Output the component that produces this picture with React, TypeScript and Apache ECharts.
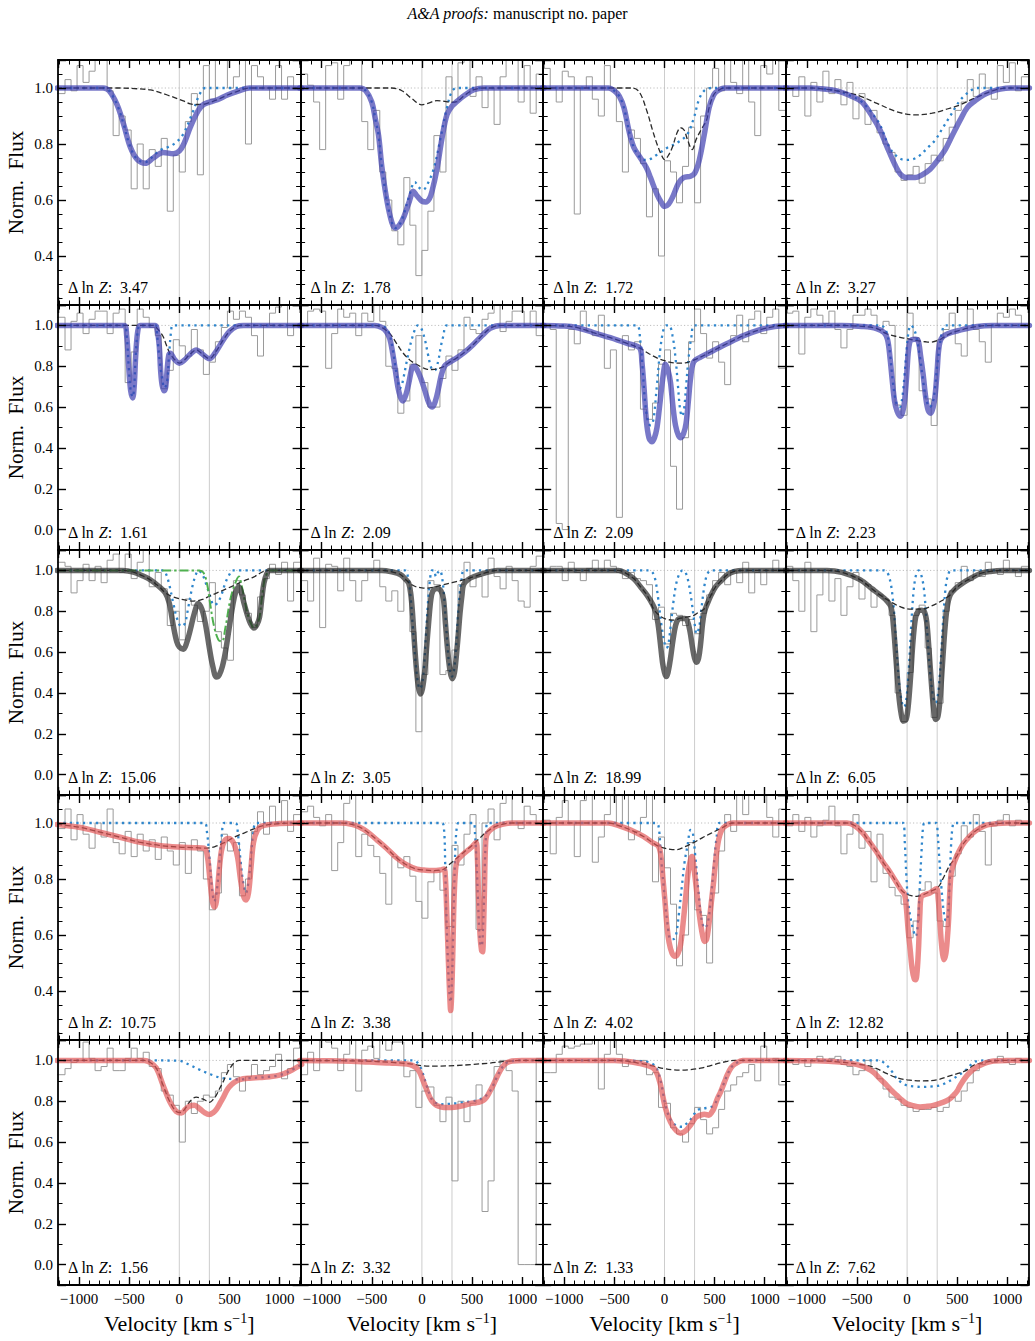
import React, { useEffect, useRef } from "react";
import * as echarts from "echarts";

// ---- velocity grid of the observed spectra (bin edges, km/s) ----
const velocityEdges = [-1220, -1140, -1080, -1020, -960, -900, -840, -780, -720, -660, -600, -540, -480, -420, -360, -300, -240, -180, -120, -60, 0, 60, 120, 180, 240, 300, 360, 420, 480, 540, 600, 660, 720, 780, 840, 900, 960, 1020, 1080, 1140, 1220];

// reference velocities marked in every panel
const refVelocities = [0, 300];

// evidence of each fit, row by row
const deltaLnZ = [
  [3.47, 1.78, 1.72, 3.27],
  [1.61, 2.09, 2.09, 2.23],
  [15.06, 3.05, 18.99, 6.05],
  [10.75, 3.38, 4.02, 12.82],
  [1.56, 3.32, 1.33, 7.62],
];

// ---- row 1 ----
const flux_r1c1 = [0.98, 1.03, 0.99, 1.08, 1.02, 1.06, 1.11, 1.12, 0.99, 0.83, 0.9, 0.85, 0.64, 0.8, 0.64, 0.78, 0.72, 0.82, 0.56, 0.76, 0.7, 0.88, 0.98, 0.69, 1.08, 0.96, 1.12, 1.12, 1.0, 1.04, 1.12, 0.8, 1.08, 1.04, 1.0, 0.96, 1.08, 0.96, 1.04, 1.0];
const fit_r1c1 = [[-1220, 1], [-760, 1], [-700, 0.99], [-620, 0.94], [-555, 0.87], [-490, 0.79], [-420, 0.745], [-340, 0.731], [-260, 0.75], [-160, 0.77], [-60, 0.765], [0, 0.775], [45, 0.8], [110, 0.86], [190, 0.92], [245, 0.942], [380, 0.958], [480, 0.975], [580, 0.988], [700, 1.0], [1220, 1]];
const narrow_r1c1 = [[-1220, 1], [-760, 1], [-700, 0.99], [-620, 0.94], [-555, 0.87], [-490, 0.79], [-420, 0.745], [-340, 0.735], [-280, 0.75], [-190, 0.778], [-70, 0.796], [30, 0.83], [130, 0.91], [200, 0.975], [260, 1.0], [1220, 1]];
const broad_r1c1 = [[-1220, 1], [-600, 1], [-450, 0.998], [-290, 0.993], [-120, 0.975], [40, 0.954], [110, 0.943], [180, 0.941], [245, 0.942], [300, 0.948], [380, 0.958], [480, 0.975], [580, 0.988], [700, 1.0], [1220, 1]];

const flux_r1c2 = [1.05, 1.01, 0.95, 0.78, 1.08, 1.09, 0.96, 1.08, 1.12, 1.11, 0.88, 0.78, 0.92, 0.7, 0.6, 0.49, 0.44, 0.68, 0.51, 0.33, 0.42, 0.56, 0.83, 0.7, 1.04, 0.95, 1.09, 1.12, 0.97, 1.04, 0.93, 1.0, 0.87, 1.04, 1.1, 1.12, 0.95, 1.08, 0.91, 1.05];
const fit_r1c2 = [[-1220, 1], [-620, 1], [-560, 0.99], [-500, 0.95], [-465, 0.89], [-432, 0.83], [-400, 0.72], [-350, 0.6], [-300, 0.52], [-265, 0.5], [-225, 0.51], [-180, 0.54], [-130, 0.59], [-85, 0.631], [-50, 0.615], [0, 0.596], [40, 0.593], [75, 0.605], [100, 0.63], [150, 0.71], [200, 0.82], [250, 0.905], [300, 0.935], [350, 0.952], [430, 0.975], [520, 0.994], [620, 1.0], [1220, 1]];
const narrow_r1c2 = [[-1220, 1], [-620, 1], [-560, 0.99], [-500, 0.95], [-465, 0.89], [-432, 0.83], [-400, 0.72], [-350, 0.6], [-300, 0.52], [-265, 0.5], [-225, 0.51], [-180, 0.55], [-130, 0.61], [-70, 0.664], [-30, 0.645], [10, 0.636], [60, 0.66], [120, 0.714], [185, 0.82], [250, 0.93], [300, 0.988], [350, 1.0], [1220, 1]];
const broad_r1c2 = [[-1220, 1], [-300, 1], [-200, 0.99], [-100, 0.962], [0, 0.94], [60, 0.945], [150, 0.955], [230, 0.952], [300, 0.949], [350, 0.952], [430, 0.975], [520, 0.994], [620, 1.0], [1220, 1]];

const flux_r1c3 = [1.07, 1.0, 0.95, 1.06, 1.04, 0.55, 1.0, 1.04, 0.96, 0.9, 1.08, 1.0, 0.88, 0.7, 0.85, 0.82, 0.73, 0.54, 0.64, 0.4, 0.74, 0.7, 0.59, 0.72, 0.86, 0.59, 0.9, 1.0, 1.07, 0.99, 1.12, 1.02, 0.98, 1.1, 0.95, 0.83, 1.08, 1.05, 1.11, 0.92];
const fit_r1c3 = [[-1220, 1], [-560, 1], [-500, 0.99], [-450, 0.97], [-405, 0.93], [-350, 0.84], [-305, 0.787], [-240, 0.75], [-180, 0.715], [-140, 0.68], [-75, 0.62], [-30, 0.59], [0, 0.577], [40, 0.585], [80, 0.61], [140, 0.66], [190, 0.68], [260, 0.685], [300, 0.695], [345, 0.74], [395, 0.83], [445, 0.93], [490, 0.975], [530, 0.99], [600, 1.0], [1220, 1]];
const narrow_r1c3 = [[-1220, 1], [-560, 1], [-500, 0.99], [-450, 0.97], [-405, 0.93], [-350, 0.84], [-305, 0.787], [-240, 0.75], [-175, 0.743], [-75, 0.762], [25, 0.786], [125, 0.804], [225, 0.833], [290, 0.89], [345, 0.96], [395, 0.99], [470, 1.0], [1220, 1]];
const broad_r1c3 = [[-1220, 1], [-320, 1], [-250, 0.985], [-175, 0.917], [-120, 0.85], [-75, 0.8], [-30, 0.76], [0, 0.744], [40, 0.76], [80, 0.79], [125, 0.84], [160, 0.858], [195, 0.85], [230, 0.815], [275, 0.78], [320, 0.82], [380, 0.86], [420, 0.885], [445, 0.93], [490, 0.975], [530, 0.99], [600, 1.0], [1220, 1]];

const flux_r1c4 = [1.0, 0.97, 1.04, 0.9, 1.02, 0.95, 1.06, 0.98, 1.03, 0.94, 1.02, 0.89, 0.98, 0.87, 0.92, 0.84, 0.8, 0.77, 0.7, 0.67, 0.69, 0.72, 0.66, 0.73, 0.76, 0.74, 0.82, 0.86, 0.92, 0.95, 1.03, 0.97, 1.05, 1.0, 0.96, 1.08, 1.02, 1.09, 0.99, 1.04];
const fit_r1c4 = [[-1220, 1], [-950, 1], [-850, 0.997], [-700, 0.99], [-550, 0.97], [-450, 0.95], [-350, 0.9], [-270, 0.85], [-200, 0.79], [-120, 0.725], [-60, 0.69], [0, 0.68], [80, 0.68], [150, 0.69], [230, 0.71], [300, 0.74], [380, 0.78], [450, 0.83], [530, 0.886], [600, 0.93], [680, 0.955], [760, 0.975], [830, 0.986], [930, 0.996], [1030, 1.0], [1220, 1]];
const narrow_r1c4 = [[-1220, 1], [-950, 1], [-850, 0.997], [-700, 0.99], [-550, 0.97], [-450, 0.95], [-350, 0.91], [-270, 0.868], [-180, 0.79], [-100, 0.755], [-20, 0.743], [50, 0.745], [130, 0.76], [200, 0.785], [280, 0.814], [360, 0.86], [430, 0.9], [480, 0.93], [530, 0.957], [580, 0.975], [630, 0.99], [700, 1.0], [1220, 1]];
const broad_r1c4 = [[-1220, 1], [-950, 1], [-850, 0.997], [-700, 0.99], [-500, 0.975], [-300, 0.945], [-100, 0.915], [80, 0.904], [250, 0.91], [400, 0.925], [530, 0.94], [650, 0.96], [750, 0.975], [850, 0.99], [1000, 1.0], [1220, 1]];

// ---- row 2 ----
const flux_r2c1 = [1.04, 0.88, 1.02, 1.06, 0.96, 1.03, 1.07, 1.07, 0.96, 1.06, 1.08, 0.72, 0.87, 1.08, 1.04, 0.99, 0.95, 0.69, 0.78, 0.93, 0.9, 0.85, 0.98, 0.88, 0.76, 0.82, 0.92, 0.99, 1.07, 1.03, 1.07, 1.04, 0.95, 0.85, 1.0, 1.06, 1.09, 1.1, 0.95, 1.0];
const fit_r2c1 = [[-1220, 1], [-550, 1], [-525, 0.95], [-505, 0.8], [-485, 0.68], [-465, 0.645], [-450, 0.7], [-435, 0.85], [-415, 0.97], [-390, 1.0], [-240, 1.0], [-220, 0.975], [-200, 0.9], [-185, 0.77], [-170, 0.705], [-150, 0.68], [-135, 0.7], [-120, 0.79], [-105, 0.855], [-90, 0.864], [-50, 0.835], [0, 0.815], [50, 0.83], [100, 0.855], [170, 0.88], [230, 0.86], [300, 0.837], [350, 0.86], [440, 0.93], [500, 0.97], [570, 0.995], [640, 1.0], [1220, 1]];
const narrow_r2c1 = [[-1220, 1], [-550, 1], [-525, 0.95], [-505, 0.8], [-485, 0.68], [-465, 0.65], [-450, 0.7], [-435, 0.85], [-415, 0.97], [-390, 1.0], [-235, 1.0], [-220, 0.947], [-197, 0.833], [-170, 0.735], [-147, 0.694], [-123, 0.719], [-103, 0.85], [-80, 0.98], [-65, 1.0], [1220, 1]];
const broad_r2c1 = [[-1220, 1], [-260, 1], [-220, 0.985], [-163, 0.947], [-130, 0.905], [-97, 0.866], [-50, 0.835], [0, 0.815], [50, 0.83], [100, 0.855], [170, 0.88], [230, 0.86], [300, 0.837], [350, 0.86], [440, 0.93], [500, 0.97], [570, 0.995], [640, 1.0], [1220, 1]];

const flux_r2c2 = [1.0, 1.07, 1.08, 1.07, 0.79, 0.96, 1.08, 1.04, 1.06, 0.95, 1.06, 1.02, 1.1, 1.02, 0.8, 0.79, 0.57, 0.63, 0.81, 0.95, 0.72, 0.6, 0.6, 0.74, 0.85, 0.78, 0.88, 1.04, 0.98, 0.96, 1.03, 1.06, 1.1, 0.97, 1.02, 1.07, 1.07, 1.0, 1.07, 0.95];
const fit_r2c2 = [[-1220, 1], [-470, 1], [-400, 0.99], [-355, 0.97], [-320, 0.935], [-290, 0.86], [-265, 0.78], [-240, 0.7], [-215, 0.65], [-190, 0.63], [-160, 0.66], [-130, 0.72], [-100, 0.79], [-80, 0.8], [-50, 0.785], [-10, 0.74], [30, 0.68], [70, 0.62], [105, 0.6], [135, 0.63], [165, 0.69], [195, 0.76], [225, 0.8], [260, 0.815], [345, 0.84], [430, 0.87], [510, 0.905], [600, 0.95], [680, 0.985], [780, 1.0], [1220, 1]];
const narrow_r2c2 = [[-1220, 1], [-420, 1], [-355, 0.985], [-320, 0.95], [-290, 0.88], [-265, 0.8], [-240, 0.73], [-220, 0.69], [-200, 0.71], [-185, 0.74], [-140, 0.85], [-90, 0.95], [-40, 1.0], [-10, 0.99], [30, 0.93], [60, 0.86], [95, 0.79], [128, 0.78], [160, 0.82], [190, 0.9], [215, 0.95], [250, 1.0], [1220, 1]];
const broad_r2c2 = [[-1220, 1], [-470, 1], [-400, 0.99], [-320, 0.96], [-250, 0.91], [-190, 0.866], [-120, 0.83], [-55, 0.81], [0, 0.795], [45, 0.786], [100, 0.784], [150, 0.787], [225, 0.8], [260, 0.815], [345, 0.84], [430, 0.87], [510, 0.905], [600, 0.95], [680, 0.985], [780, 1.0], [1220, 1]];

const flux_r2c3 = [1.0, 0.98, 0.03, 0.0, 0.98, 0.91, 1.07, 0.97, 0.95, 1.05, 0.79, 0.88, 0.06, 0.95, 0.88, 0.92, 0.59, 0.54, 0.62, 0.81, 0.88, 0.31, 0.1, 0.45, 0.92, 1.08, 0.96, 0.84, 0.92, 0.82, 0.71, 0.95, 1.05, 0.92, 1.03, 1.07, 0.96, 1.04, 1.08, 0.79];
const fit_r2c3 = [[-1220, 1], [-1000, 0.997], [-880, 0.99], [-710, 0.965], [-540, 0.94], [-380, 0.913], [-245, 0.888], [-225, 0.82], [-205, 0.7], [-180, 0.53], [-155, 0.45], [-127, 0.43], [-100, 0.45], [-75, 0.5], [-50, 0.6], [-25, 0.71], [0, 0.8], [10, 0.81], [35, 0.78], [60, 0.72], [85, 0.6], [110, 0.51], [140, 0.46], [163, 0.45], [190, 0.47], [215, 0.52], [240, 0.64], [260, 0.74], [290, 0.82], [360, 0.845], [460, 0.87], [620, 0.91], [790, 0.95], [960, 0.98], [1100, 0.995], [1220, 1]];
const narrow_r2c3 = [[-1220, 1], [-280, 1], [-243, 0.93], [-217, 0.78], [-193, 0.62], [-160, 0.52], [-137, 0.51], [-110, 0.54], [-77, 0.7], [-43, 0.88], [-10, 0.98], [15, 1.0], [45, 1.0], [80, 0.95], [110, 0.84], [135, 0.7], [155, 0.59], [175, 0.555], [195, 0.59], [215, 0.7], [240, 0.84], [270, 0.95], [300, 1.0], [1220, 1]];
const broad_r2c3 = [[-1220, 1], [-1000, 0.997], [-880, 0.99], [-710, 0.965], [-540, 0.94], [-380, 0.913], [-245, 0.888], [-150, 0.86], [-50, 0.835], [0, 0.828], [50, 0.82], [150, 0.815], [220, 0.818], [290, 0.83], [360, 0.845], [460, 0.87], [620, 0.91], [790, 0.95], [960, 0.98], [1100, 0.995], [1220, 1]];

const flux_r2c4 = [1.06, 1.07, 0.86, 1.04, 1.08, 1.05, 1.01, 1.07, 0.98, 0.89, 0.98, 1.05, 1.05, 1.08, 1.05, 0.98, 1.02, 1.0, 0.61, 0.56, 1.06, 0.94, 0.68, 0.64, 0.51, 0.93, 0.98, 1.06, 0.91, 0.85, 1.08, 0.98, 0.92, 0.82, 1.0, 1.06, 1.04, 1.08, 1.05, 1.0];
const fit_r2c4 = [[-1220, 1], [-650, 1], [-450, 0.995], [-307, 0.985], [-230, 0.965], [-195, 0.93], [-170, 0.84], [-150, 0.74], [-125, 0.63], [-100, 0.58], [-70, 0.555], [-45, 0.575], [-25, 0.63], [-5, 0.75], [10, 0.86], [25, 0.915], [45, 0.93], [80, 0.932], [110, 0.925], [135, 0.85], [160, 0.76], [185, 0.65], [210, 0.585], [235, 0.57], [260, 0.6], [280, 0.66], [300, 0.78], [315, 0.88], [340, 0.935], [400, 0.958], [530, 0.977], [700, 0.995], [850, 1.0], [1220, 1]];
const narrow_r2c4 = [[-1220, 1], [-270, 1], [-230, 0.99], [-195, 0.95], [-170, 0.86], [-150, 0.76], [-125, 0.66], [-100, 0.61], [-75, 0.6], [-50, 0.64], [-25, 0.76], [-5, 0.88], [15, 0.97], [35, 1.0], [60, 0.99], [90, 0.95], [130, 0.84], [165, 0.71], [195, 0.63], [225, 0.6], [255, 0.62], [280, 0.7], [300, 0.8], [325, 0.9], [350, 0.97], [380, 1.0], [1220, 1]];
const broad_r2c4 = [[-1220, 1], [-650, 1], [-450, 0.995], [-307, 0.985], [-207, 0.96], [-100, 0.945], [0, 0.935], [100, 0.925], [180, 0.92], [230, 0.918], [300, 0.925], [360, 0.94], [430, 0.96], [530, 0.977], [700, 0.995], [850, 1.0], [1220, 1]];

// ---- row 3 ----
const flux_r3c1 = [1.04, 1.02, 0.89, 0.95, 1.03, 0.95, 1.02, 0.94, 1.05, 1.08, 0.99, 1.08, 0.96, 1.04, 1.12, 0.92, 0.99, 0.91, 0.73, 0.8, 0.66, 0.86, 0.83, 0.75, 0.8, 0.94, 0.7, 0.62, 0.56, 0.95, 0.88, 0.79, 0.72, 0.87, 0.96, 1.03, 0.98, 1.04, 0.85, 1.04];
const fit_r3c1 = [[-1220, 1], [-560, 1], [-450, 0.99], [-350, 0.97], [-290, 0.954], [-200, 0.92], [-140, 0.89], [-100, 0.84], [-60, 0.73], [-25, 0.65], [0, 0.625], [40, 0.614], [70, 0.64], [110, 0.71], [150, 0.79], [190, 0.838], [225, 0.81], [260, 0.74], [300, 0.62], [330, 0.54], [370, 0.478], [400, 0.49], [430, 0.53], [460, 0.6], [495, 0.71], [530, 0.82], [560, 0.89], [595, 0.92], [620, 0.89], [645, 0.84], [680, 0.78], [710, 0.74], [745, 0.718], [775, 0.735], [800, 0.77], [825, 0.87], [845, 0.94], [870, 0.98], [900, 1.0], [1220, 1]];
const narrow_r3c1 = [[-1220, 1], [-160, 1], [-130, 0.98], [-100, 0.93], [-60, 0.84], [-20, 0.76], [20, 0.725], [55, 0.74], [90, 0.82], [130, 0.92], [165, 0.98], [190, 1.0], [230, 0.98], [270, 0.93], [310, 0.87], [345, 0.83], [380, 0.84], [420, 0.88], [460, 0.94], [500, 0.98], [530, 1.0], [1220, 1]];
const broad_r3c1 = [[-1220, 1], [-560, 1], [-450, 0.99], [-350, 0.97], [-290, 0.954], [-200, 0.92], [-140, 0.89], [-60, 0.87], [40, 0.857], [140, 0.85], [230, 0.858], [310, 0.876], [400, 0.895], [480, 0.912], [560, 0.93], [650, 0.95], [740, 0.967], [800, 0.985], [850, 0.997], [900, 1.0], [1220, 1]];
const second_r3c1 = [[-1220, 1], [200, 1], [240, 0.99], [275, 0.94], [310, 0.83], [345, 0.73], [390, 0.66], [425, 0.652], [460, 0.72], [510, 0.86], [560, 0.94], [595, 0.97], [620, 0.93], [645, 0.87], [680, 0.79], [710, 0.745], [745, 0.718], [775, 0.735], [800, 0.77], [825, 0.87], [845, 0.94], [870, 0.98], [900, 1.0], [1220, 1]];

const flux_r3c2 = [0.95, 0.85, 1.06, 0.72, 1.03, 1.02, 0.9, 1.06, 0.95, 0.85, 0.95, 1.0, 1.05, 0.92, 0.85, 0.9, 0.8, 0.95, 0.7, 0.21, 0.49, 0.95, 0.93, 0.49, 0.51, 0.61, 0.93, 1.04, 0.92, 0.97, 0.87, 1.06, 0.97, 0.91, 1.02, 0.95, 0.85, 0.82, 1.02, 1.07];
const fit_r3c2 = [[-1220, 1], [-400, 1], [-300, 0.993], [-215, 0.98], [-160, 0.955], [-130, 0.935], [-110, 0.88], [-95, 0.8], [-75, 0.65], [-55, 0.52], [-35, 0.43], [-15, 0.395], [5, 0.42], [25, 0.49], [45, 0.61], [68, 0.75], [90, 0.86], [110, 0.9], [150, 0.912], [190, 0.9], [215, 0.86], [235, 0.74], [255, 0.62], [280, 0.51], [302, 0.47], [325, 0.5], [345, 0.59], [365, 0.7], [380, 0.79], [400, 0.88], [415, 0.93], [460, 0.955], [520, 0.97], [650, 0.99], [750, 1.0], [1220, 1]];
const narrow_r3c2 = [[-1220, 1], [-170, 1], [-140, 0.97], [-115, 0.88], [-90, 0.72], [-65, 0.56], [-40, 0.45], [-20, 0.42], [0, 0.44], [20, 0.52], [40, 0.68], [60, 0.84], [80, 0.95], [100, 1.0], [120, 1.0], [140, 0.97], [160, 0.99], [180, 1.0], [200, 0.97], [220, 0.88], [240, 0.74], [260, 0.6], [280, 0.51], [300, 0.48], [320, 0.51], [340, 0.62], [360, 0.78], [380, 0.9], [400, 0.97], [420, 1.0], [1220, 1]];
const broad_r3c2 = [[-1220, 1], [-400, 1], [-300, 0.993], [-215, 0.98], [-160, 0.955], [-130, 0.94], [-60, 0.92], [0, 0.915], [50, 0.913], [120, 0.918], [200, 0.928], [300, 0.94], [385, 0.95], [460, 0.96], [520, 0.97], [650, 0.99], [750, 1.0], [1220, 1]];

const flux_r3c3 = [0.99, 1.02, 1.02, 0.95, 1.04, 0.99, 0.95, 1.01, 1.05, 1.0, 1.05, 1.02, 0.99, 0.96, 0.99, 0.96, 0.95, 0.93, 0.76, 0.82, 0.64, 0.79, 0.78, 0.73, 0.76, 0.69, 0.79, 0.88, 0.95, 0.99, 0.93, 1.0, 0.94, 1.04, 0.89, 0.99, 0.93, 1.0, 1.05, 1.0];
const fit_r3c3 = [[-1220, 1], [-460, 1], [-400, 0.99], [-307, 0.96], [-240, 0.92], [-173, 0.878], [-120, 0.835], [-90, 0.8], [-65, 0.74], [-45, 0.66], [-20, 0.55], [0, 0.5], [17, 0.48], [35, 0.5], [60, 0.57], [85, 0.66], [110, 0.73], [135, 0.76], [160, 0.765], [200, 0.765], [227, 0.755], [255, 0.7], [280, 0.62], [300, 0.57], [320, 0.55], [340, 0.57], [360, 0.64], [380, 0.74], [400, 0.8], [430, 0.84], [460, 0.875], [510, 0.92], [560, 0.947], [630, 0.98], [700, 0.995], [780, 1.0], [1220, 1]];
const narrow_r3c3 = [[-1220, 1], [-160, 1], [-120, 0.99], [-90, 0.95], [-60, 0.85], [-30, 0.73], [0, 0.645], [17, 0.62], [35, 0.63], [60, 0.72], [85, 0.83], [115, 0.93], [150, 0.985], [180, 1.0], [210, 0.99], [240, 0.94], [270, 0.85], [300, 0.74], [320, 0.69], [345, 0.72], [370, 0.82], [400, 0.93], [430, 0.985], [470, 1.0], [1220, 1]];
const broad_r3c3 = [[-1220, 1], [-460, 1], [-400, 0.99], [-307, 0.96], [-240, 0.92], [-173, 0.878], [-107, 0.81], [-40, 0.775], [27, 0.76], [90, 0.757], [160, 0.766], [230, 0.772], [293, 0.78], [340, 0.795], [393, 0.81], [430, 0.84], [460, 0.875], [510, 0.92], [560, 0.947], [630, 0.98], [700, 0.995], [780, 1.0], [1220, 1]];

const flux_r3c4 = [1.02, 0.95, 0.8, 1.04, 0.7, 0.88, 1.0, 0.85, 0.96, 0.78, 0.92, 0.99, 0.86, 0.93, 0.82, 0.88, 0.86, 0.78, 0.4, 0.26, 0.5, 0.78, 0.83, 0.62, 0.28, 0.35, 0.8, 0.9, 0.94, 1.02, 0.95, 1.0, 0.97, 1.04, 1.0, 0.98, 1.05, 1.0, 0.97, 1.02];
const fit_r3c4 = [[-1220, 1], [-800, 1], [-650, 0.99], [-470, 0.955], [-350, 0.91], [-270, 0.88], [-200, 0.85], [-160, 0.82], [-135, 0.72], [-110, 0.56], [-85, 0.4], [-60, 0.3], [-35, 0.262], [-10, 0.27], [10, 0.33], [35, 0.48], [60, 0.66], [85, 0.77], [110, 0.8], [140, 0.805], [170, 0.8], [195, 0.75], [220, 0.6], [245, 0.43], [265, 0.32], [285, 0.27], [305, 0.28], [325, 0.35], [350, 0.52], [375, 0.7], [400, 0.82], [430, 0.88], [480, 0.91], [560, 0.94], [630, 0.96], [730, 0.985], [830, 0.995], [950, 1.0], [1220, 1]];
const narrow_r3c4 = [[-1220, 1], [-230, 1], [-180, 0.97], [-140, 0.85], [-110, 0.65], [-80, 0.45], [-50, 0.35], [-30, 0.33], [-10, 0.36], [15, 0.5], [40, 0.72], [65, 0.9], [90, 0.98], [115, 1.0], [140, 0.98], [170, 0.9], [200, 0.7], [230, 0.5], [260, 0.38], [285, 0.35], [310, 0.4], [335, 0.55], [360, 0.76], [385, 0.92], [410, 0.98], [440, 1.0], [1220, 1]];
const broad_r3c4 = [[-1220, 1], [-800, 1], [-650, 0.99], [-470, 0.955], [-350, 0.91], [-270, 0.88], [-160, 0.845], [-60, 0.82], [40, 0.81], [140, 0.81], [240, 0.825], [340, 0.85], [430, 0.88], [480, 0.91], [560, 0.94], [630, 0.96], [730, 0.985], [830, 0.995], [950, 1.0], [1220, 1]];

// ---- row 4 ----
const flux_r4c1 = [0.98, 1.05, 0.94, 1.03, 0.96, 0.91, 1.0, 0.95, 1.05, 0.93, 0.89, 0.97, 0.88, 0.96, 0.9, 0.94, 0.87, 0.95, 0.9, 0.85, 0.93, 0.82, 0.94, 0.9, 0.8, 0.69, 0.75, 0.96, 0.9, 0.93, 0.74, 0.8, 0.97, 1.04, 0.96, 1.06, 1.0, 1.08, 0.97, 1.03];
const fit_r4c1 = [[-1220, 0.995], [-1000, 0.985], [-800, 0.968], [-600, 0.95], [-400, 0.932], [-200, 0.92], [0, 0.914], [150, 0.912], [250, 0.91], [280, 0.88], [305, 0.8], [330, 0.72], [350, 0.7], [370, 0.72], [395, 0.82], [420, 0.9], [450, 0.935], [490, 0.945], [540, 0.93], [580, 0.88], [610, 0.8], [640, 0.74], [665, 0.725], [690, 0.75], [715, 0.84], [740, 0.93], [780, 0.975], [830, 0.99], [1000, 0.998], [1220, 1]];
const narrow_r4c1 = [[-1220, 1], [250, 1], [275, 0.97], [300, 0.88], [325, 0.77], [350, 0.72], [375, 0.76], [400, 0.86], [425, 0.96], [450, 1.0], [560, 1.0], [585, 0.96], [610, 0.87], [640, 0.78], [665, 0.75], [690, 0.79], [715, 0.88], [740, 0.97], [770, 1.0], [1220, 1]];
const broad_r4c1 = [[-1220, 0.995], [-1000, 0.985], [-800, 0.968], [-600, 0.95], [-400, 0.932], [-200, 0.92], [0, 0.914], [150, 0.912], [250, 0.91], [350, 0.915], [450, 0.93], [550, 0.95], [650, 0.965], [750, 0.98], [830, 0.99], [1000, 0.998], [1220, 1]];

const flux_r4c2 = [1.04, 1.06, 1.02, 0.99, 1.03, 0.83, 0.93, 1.07, 1.12, 0.88, 0.96, 0.92, 0.88, 0.82, 0.71, 0.88, 0.84, 0.88, 0.81, 0.72, 0.66, 0.79, 0.83, 0.76, 0.63, 0.92, 0.85, 0.96, 1.03, 0.62, 1.0, 1.05, 0.94, 1.07, 1.12, 1.0, 0.98, 1.06, 1.03, 1.0];
const fit_r4c2 = [[-1220, 1], [-800, 1], [-700, 0.995], [-620, 0.985], [-550, 0.97], [-450, 0.94], [-350, 0.909], [-250, 0.875], [-150, 0.85], [-50, 0.835], [20, 0.832], [100, 0.83], [185, 0.832], [220, 0.836], [235, 0.8], [250, 0.66], [265, 0.5], [278, 0.38], [287, 0.33], [296, 0.38], [308, 0.53], [320, 0.72], [335, 0.83], [352, 0.865], [400, 0.885], [450, 0.9], [500, 0.915], [540, 0.93], [553, 0.88], [565, 0.74], [580, 0.6], [595, 0.545], [605, 0.54], [615, 0.62], [625, 0.78], [635, 0.92], [650, 0.96], [720, 0.985], [800, 0.995], [900, 1.0], [1220, 1]];
const narrow_r4c2 = [[-1220, 1], [200, 1], [222, 0.97], [232, 0.86], [242, 0.7], [255, 0.55], [270, 0.42], [285, 0.36], [298, 0.42], [310, 0.58], [322, 0.76], [335, 0.92], [350, 0.99], [365, 1.0], [515, 1.0], [530, 0.96], [545, 0.86], [560, 0.72], [575, 0.6], [590, 0.56], [602, 0.57], [615, 0.68], [628, 0.85], [640, 0.96], [655, 1.0], [1220, 1]];
const broad_r4c2 = [[-1220, 1], [-800, 1], [-700, 0.995], [-620, 0.985], [-550, 0.97], [-450, 0.94], [-350, 0.909], [-250, 0.875], [-150, 0.85], [-50, 0.835], [20, 0.832], [100, 0.83], [185, 0.832], [220, 0.836], [300, 0.86], [400, 0.89], [500, 0.92], [560, 0.94], [635, 0.965], [720, 0.985], [800, 0.995], [900, 1.0], [1220, 1]];

const flux_r4c3 = [1.01, 0.89, 1.02, 1.08, 1.0, 0.88, 1.08, 1.1, 0.86, 0.95, 1.03, 1.12, 0.99, 1.12, 0.94, 0.97, 1.02, 1.12, 0.79, 0.95, 0.84, 0.71, 0.49, 0.6, 0.93, 0.69, 0.67, 0.5, 0.75, 0.9, 1.03, 0.97, 1.1, 1.03, 1.12, 1.1, 1.12, 1.02, 0.95, 1.05];
const fit_r4c3 = [[-1220, 1], [-560, 1], [-450, 0.99], [-343, 0.976], [-210, 0.952], [-120, 0.93], [-60, 0.917], [-35, 0.88], [-15, 0.8], [5, 0.72], [25, 0.63], [45, 0.575], [75, 0.535], [105, 0.524], [135, 0.535], [160, 0.565], [185, 0.64], [210, 0.73], [235, 0.82], [260, 0.87], [275, 0.88], [290, 0.85], [310, 0.79], [335, 0.71], [360, 0.64], [385, 0.59], [400, 0.577], [420, 0.585], [440, 0.63], [465, 0.71], [490, 0.79], [515, 0.88], [540, 0.94], [570, 0.975], [610, 0.99], [680, 1.0], [1220, 1]];
const narrow_r4c3 = [[-1220, 1], [-90, 1], [-60, 0.99], [-35, 0.88], [0, 0.74], [30, 0.64], [60, 0.585], [90, 0.585], [115, 0.6], [145, 0.68], [175, 0.78], [200, 0.86], [230, 0.92], [260, 0.975], [280, 0.97], [305, 0.89], [340, 0.75], [370, 0.655], [400, 0.625], [430, 0.64], [460, 0.72], [490, 0.84], [520, 0.95], [550, 1.0], [1220, 1]];
const broad_r4c3 = [[-1220, 1], [-560, 1], [-450, 0.99], [-343, 0.976], [-210, 0.952], [-120, 0.93], [-60, 0.917], [0, 0.91], [60, 0.906], [123, 0.905], [200, 0.915], [290, 0.93], [380, 0.948], [457, 0.962], [530, 0.975], [570, 0.982], [610, 0.99], [680, 1.0], [1220, 1]];

const flux_r4c4 = [0.99, 1.03, 0.97, 1.02, 0.95, 0.99, 1.01, 1.06, 0.99, 0.89, 0.96, 1.03, 0.91, 0.97, 0.79, 0.96, 0.82, 0.77, 0.74, 0.71, 0.59, 0.65, 0.76, 0.79, 0.75, 0.65, 0.63, 0.81, 0.89, 0.99, 0.95, 1.03, 0.97, 0.85, 0.99, 1.01, 1.03, 0.99, 1.01, 1.0];
const fit_r4c4 = [[-1220, 1], [-600, 1], [-520, 0.99], [-440, 0.964], [-370, 0.93], [-307, 0.898], [-240, 0.86], [-173, 0.826], [-110, 0.79], [-57, 0.76], [-25, 0.745], [-8, 0.7], [10, 0.62], [30, 0.55], [50, 0.48], [70, 0.445], [85, 0.44], [100, 0.47], [115, 0.56], [128, 0.68], [140, 0.735], [180, 0.745], [227, 0.75], [293, 0.765], [310, 0.73], [325, 0.66], [340, 0.58], [355, 0.53], [368, 0.512], [385, 0.53], [400, 0.58], [415, 0.66], [430, 0.78], [445, 0.83], [493, 0.88], [550, 0.92], [593, 0.94], [660, 0.965], [727, 0.982], [800, 0.993], [893, 0.998], [1000, 1.0], [1220, 1]];
const narrow_r4c4 = [[-1220, 1], [-40, 1], [-23, 0.93], [-7, 0.81], [10, 0.72], [43, 0.645], [87, 0.595], [110, 0.655], [127, 0.774], [143, 0.893], [160, 0.988], [175, 1.0], [290, 1.0], [305, 0.96], [320, 0.88], [340, 0.78], [360, 0.7], [380, 0.655], [395, 0.65], [410, 0.68], [420, 0.75], [430, 0.84], [440, 0.93], [455, 0.99], [470, 1.0], [1220, 1]];
const broad_r4c4 = [[-1220, 1], [-600, 1], [-520, 0.99], [-440, 0.964], [-370, 0.93], [-307, 0.898], [-240, 0.86], [-173, 0.826], [-110, 0.79], [-57, 0.76], [0, 0.745], [50, 0.74], [93, 0.738], [150, 0.742], [227, 0.755], [310, 0.771], [370, 0.81], [427, 0.85], [493, 0.88], [550, 0.92], [593, 0.94], [660, 0.965], [727, 0.982], [800, 0.993], [893, 0.998], [1000, 1.0], [1220, 1]];

// ---- row 5 ----
const flux_r5c1 = [0.93, 0.96, 0.99, 1.0, 1.09, 1.01, 0.95, 0.97, 1.06, 0.95, 0.95, 1.01, 1.06, 1.01, 1.04, 0.97, 0.96, 0.85, 0.83, 0.78, 0.6, 0.8, 0.74, 0.8, 0.83, 0.82, 0.85, 0.94, 0.98, 0.92, 0.85, 0.92, 0.98, 0.93, 0.95, 0.97, 1.03, 0.91, 0.96, 1.06];
const fit_r5c1 = [[-1220, 1], [-350, 1], [-290, 0.99], [-230, 0.963], [-163, 0.88], [-97, 0.8], [-30, 0.75], [20, 0.742], [60, 0.76], [100, 0.775], [150, 0.78], [200, 0.765], [250, 0.745], [300, 0.735], [340, 0.745], [370, 0.76], [400, 0.785], [437, 0.817], [470, 0.85], [503, 0.873], [550, 0.893], [603, 0.906], [700, 0.913], [800, 0.916], [900, 0.92], [1000, 0.928], [1100, 0.947], [1220, 0.98]];
const narrow_r5c1 = [[-1220, 1], [-300, 1], [0, 0.998], [50, 0.99], [103, 0.978], [200, 0.955], [270, 0.94], [350, 0.925], [403, 0.916], [470, 0.911], [550, 0.908], [603, 0.906], [700, 0.913], [800, 0.916], [900, 0.92], [1000, 0.928], [1100, 0.947], [1220, 0.98]];
const broad_r5c1 = [[-1220, 1], [-350, 1], [-290, 0.99], [-230, 0.963], [-163, 0.88], [-97, 0.8], [-30, 0.75], [20, 0.745], [60, 0.765], [100, 0.795], [140, 0.815], [170, 0.82], [237, 0.81], [280, 0.8], [303, 0.795], [340, 0.81], [370, 0.83], [400, 0.86], [437, 0.895], [470, 0.93], [503, 0.96], [550, 0.99], [600, 1.0], [1220, 1]];

const flux_r5c2 = [0.93, 1.04, 0.95, 1.1, 1.09, 1.06, 0.95, 1.03, 1.1, 0.85, 1.05, 1.07, 1.01, 1.1, 1.05, 1.09, 1.09, 0.92, 0.95, 0.77, 0.85, 0.87, 0.78, 0.7, 0.82, 0.41, 0.8, 0.7, 0.79, 0.88, 0.26, 0.41, 0.97, 1.0, 0.95, 0.85, 0.0, 0.0, 0.0, 1.01];
const fit_r5c2 = [[-1220, 1], [-900, 0.998], [-655, 0.995], [-450, 0.99], [-322, 0.987], [-122, 0.98], [-55, 0.963], [-20, 0.94], [12, 0.9], [45, 0.86], [78, 0.82], [110, 0.795], [145, 0.78], [195, 0.772], [245, 0.769], [345, 0.772], [420, 0.78], [478, 0.788], [540, 0.793], [578, 0.797], [615, 0.805], [645, 0.82], [680, 0.85], [712, 0.88], [745, 0.915], [778, 0.947], [810, 0.972], [845, 0.988], [900, 0.997], [1000, 1.0], [1220, 1]];
const narrow_r5c2 = [[-1220, 1], [-100, 1], [-60, 0.995], [-30, 0.98], [0, 0.95], [45, 0.88], [80, 0.83], [112, 0.8], [145, 0.79], [178, 0.785], [260, 0.787], [345, 0.79], [430, 0.796], [512, 0.8], [560, 0.806], [612, 0.816], [645, 0.83], [680, 0.85], [712, 0.88], [745, 0.915], [778, 0.947], [810, 0.972], [845, 0.988], [900, 0.997], [1000, 1.0], [1220, 1]];
const broad_r5c2 = [[-1220, 1], [-600, 0.997], [-300, 0.99], [-100, 0.982], [0, 0.974], [150, 0.972], [345, 0.975], [500, 0.98], [678, 0.987], [800, 0.994], [900, 0.998], [1000, 1.0], [1220, 1]];

const flux_r5c3 = [0.94, 0.94, 1.03, 1.07, 1.06, 1.07, 1.08, 1.08, 1.12, 0.86, 1.03, 1.1, 1.03, 0.97, 0.99, 1.0, 1.0, 0.93, 0.94, 0.77, 0.79, 0.67, 0.64, 0.6, 0.69, 0.77, 0.71, 0.64, 0.67, 0.76, 0.85, 0.88, 0.92, 0.94, 0.98, 0.9, 1.07, 1.0, 1.01, 0.88];
const fit_r5c3 = [[-1220, 1], [-500, 1], [-400, 0.997], [-300, 0.99], [-240, 0.985], [-170, 0.975], [-107, 0.96], [-70, 0.93], [-40, 0.88], [-15, 0.82], [10, 0.765], [40, 0.72], [77, 0.683], [120, 0.655], [160, 0.643], [210, 0.655], [260, 0.683], [310, 0.72], [360, 0.732], [400, 0.736], [443, 0.732], [470, 0.745], [493, 0.765], [525, 0.81], [560, 0.846], [595, 0.89], [627, 0.93], [665, 0.965], [710, 0.985], [780, 1.0], [1220, 1]];
const narrow_r5c3 = [[-1220, 1], [-500, 1], [-300, 0.998], [-150, 0.99], [-90, 0.97], [-55, 0.93], [-23, 0.864], [0, 0.8], [27, 0.75], [60, 0.71], [93, 0.69], [135, 0.678], [177, 0.675], [220, 0.69], [260, 0.71], [300, 0.74], [327, 0.757], [393, 0.765], [450, 0.77], [493, 0.78], [525, 0.81], [560, 0.855], [595, 0.89], [627, 0.93], [665, 0.965], [710, 0.985], [780, 1.0], [1220, 1]];
const broad_r5c3 = [[-1220, 1], [-500, 1], [-350, 0.995], [-240, 0.985], [-107, 0.972], [-7, 0.96], [80, 0.954], [160, 0.952], [260, 0.955], [360, 0.962], [460, 0.975], [560, 0.988], [640, 0.997], [700, 1.0], [1220, 1]];

const flux_r5c4 = [0.99, 0.98, 1.0, 0.97, 1.0, 1.02, 1.0, 1.01, 1.02, 0.98, 0.97, 0.93, 0.95, 1.0, 0.96, 0.91, 0.86, 0.82, 0.81, 0.78, 0.77, 0.75, 0.76, 0.76, 0.77, 0.75, 0.77, 0.82, 0.8, 0.85, 0.89, 0.95, 0.98, 1.0, 0.99, 1.02, 0.99, 0.98, 1.01, 0.99];
const fit_r5c4 = [[-1220, 1], [-900, 0.998], [-670, 0.992], [-560, 0.985], [-470, 0.976], [-400, 0.962], [-337, 0.943], [-270, 0.91], [-203, 0.878], [-150, 0.85], [-103, 0.829], [-50, 0.805], [-3, 0.788], [60, 0.778], [130, 0.772], [200, 0.775], [263, 0.78], [363, 0.796], [420, 0.81], [463, 0.829], [500, 0.85], [530, 0.878], [580, 0.915], [630, 0.943], [680, 0.963], [730, 0.976], [800, 0.99], [863, 0.997], [1000, 1.0], [1220, 1]];
const narrow_r5c4 = [[-1220, 1], [-300, 1], [-250, 0.995], [-203, 0.976], [-150, 0.945], [-103, 0.911], [-50, 0.89], [-3, 0.878], [80, 0.872], [163, 0.87], [250, 0.873], [330, 0.878], [400, 0.893], [463, 0.911], [520, 0.93], [563, 0.943], [600, 0.96], [630, 0.976], [697, 0.997], [800, 1.0], [1220, 1]];
const broad_r5c4 = [[-1220, 1], [-900, 0.998], [-670, 0.992], [-470, 0.98], [-337, 0.967], [-200, 0.935], [-100, 0.915], [0, 0.905], [163, 0.9], [300, 0.905], [400, 0.92], [500, 0.935], [563, 0.945], [620, 0.96], [663, 0.976], [750, 0.988], [850, 0.997], [950, 1.0], [1220, 1]];

type Curve = number[][];
interface Panel { flux: number[]; fit: Curve; narrow: Curve; broad: Curve; second?: Curve; }

const panels: Panel[][] = [
  [
    { flux: flux_r1c1, fit: fit_r1c1, narrow: narrow_r1c1, broad: broad_r1c1 },
    { flux: flux_r1c2, fit: fit_r1c2, narrow: narrow_r1c2, broad: broad_r1c2 },
    { flux: flux_r1c3, fit: fit_r1c3, narrow: narrow_r1c3, broad: broad_r1c3 },
    { flux: flux_r1c4, fit: fit_r1c4, narrow: narrow_r1c4, broad: broad_r1c4 },
  ],
  [
    { flux: flux_r2c1, fit: fit_r2c1, narrow: narrow_r2c1, broad: broad_r2c1 },
    { flux: flux_r2c2, fit: fit_r2c2, narrow: narrow_r2c2, broad: broad_r2c2 },
    { flux: flux_r2c3, fit: fit_r2c3, narrow: narrow_r2c3, broad: broad_r2c3 },
    { flux: flux_r2c4, fit: fit_r2c4, narrow: narrow_r2c4, broad: broad_r2c4 },
  ],
  [
    { flux: flux_r3c1, fit: fit_r3c1, narrow: narrow_r3c1, broad: broad_r3c1, second: second_r3c1 },
    { flux: flux_r3c2, fit: fit_r3c2, narrow: narrow_r3c2, broad: broad_r3c2 },
    { flux: flux_r3c3, fit: fit_r3c3, narrow: narrow_r3c3, broad: broad_r3c3 },
    { flux: flux_r3c4, fit: fit_r3c4, narrow: narrow_r3c4, broad: broad_r3c4 },
  ],
  [
    { flux: flux_r4c1, fit: fit_r4c1, narrow: narrow_r4c1, broad: broad_r4c1 },
    { flux: flux_r4c2, fit: fit_r4c2, narrow: narrow_r4c2, broad: broad_r4c2 },
    { flux: flux_r4c3, fit: fit_r4c3, narrow: narrow_r4c3, broad: broad_r4c3 },
    { flux: flux_r4c4, fit: fit_r4c4, narrow: narrow_r4c4, broad: broad_r4c4 },
  ],
  [
    { flux: flux_r5c1, fit: fit_r5c1, narrow: narrow_r5c1, broad: broad_r5c1 },
    { flux: flux_r5c2, fit: fit_r5c2, narrow: narrow_r5c2, broad: broad_r5c2 },
    { flux: flux_r5c3, fit: fit_r5c3, narrow: narrow_r5c3, broad: broad_r5c3 },
    { flux: flux_r5c4, fit: fit_r5c4, narrow: narrow_r5c4, broad: broad_r5c4 },
  ],
];

// ---- layout and styling ----
const WIDTH = 1035;
const HEIGHT = 1341;
const colLeft = [58, 300.6, 543.2, 785.8];
const panelW = 242.6;
const rowTop = [60, 305, 550, 795, 1040];
const panelH = 245;
const xRange = [-1210, 1210];
const rowYMin = [0.225, -0.1, -0.1, 0.225, -0.1];
const yMaxAll = 1.1;
const rowMinorSplit = [4, 2, 2, 4, 2];
const rowFitColor = [
  "rgba(62,62,176,0.7)",
  "rgba(62,62,176,0.7)",
  "rgba(40,40,40,0.7)",
  "rgba(226,84,84,0.68)",
  "rgba(226,84,84,0.68)",
];
const FONT = "'Liberation Serif', 'DejaVu Serif', serif";

function minusFmt(v: number): string {
  return v < 0 ? "\u2212" + String(-v) : String(v);
}

function buildOption() {
  const grids: any[] = [];
  const xAxes: any[] = [];
  const yAxes: any[] = [];
  const series: any[] = [];
  const graphics: any[] = [];

  const axisLine = { show: true, onZero: false, lineStyle: { color: "#000", width: 1.8 } };
  const axisTick = { show: true, inside: true, length: 8, lineStyle: { color: "#000", width: 1.4 } };

  for (let r = 0; r < 5; r++) {
    for (let c = 0; c < 4; c++) {
      const gi = r * 4 + c;
      const p = panels[r][c];
      grids.push({
        left: colLeft[c],
        top: rowTop[r],
        width: panelW,
        height: panelH,
        containLabel: false,
        outerBoundsMode: "none",
      });
      const xBase = {
        type: "value",
        gridIndex: gi,
        min: xRange[0],
        max: xRange[1],
        z: 10,
        axisLine,
        axisTick,
        minorTick: { show: true, splitNumber: 5, length: 4.5, lineStyle: { color: "#000", width: 1 } },
        splitLine: { show: false },
        minorSplitLine: { show: false },
      };
      xAxes.push({
        ...xBase,
        position: "bottom",
        axisLabel: {
          show: r === 4,
          margin: 6,
          fontSize: 15,
          color: "#000",
          fontFamily: FONT,
          showMinLabel: false,
          showMaxLabel: false,
          formatter: (v: number) => minusFmt(v),
        },
      });
      xAxes.push({ ...xBase, position: "top", axisLabel: { show: false } });

      const yBase = {
        type: "value",
        gridIndex: gi,
        min: rowYMin[r],
        max: yMaxAll,
        z: 10,
        axisLine,
        axisTick,
        minorTick: { show: true, splitNumber: rowMinorSplit[r], length: 4.5, lineStyle: { color: "#000", width: 1 } },
        splitLine: { show: false },
        minorSplitLine: { show: false },
      };
      yAxes.push({
        ...yBase,
        position: "left",
        axisLabel: {
          show: c === 0,
          margin: 5,
          fontSize: 15,
          color: "#000",
          fontFamily: FONT,
          showMinLabel: false,
          showMaxLabel: false,
          formatter: (v: number) => v.toFixed(1),
        },
      });
      yAxes.push({ ...yBase, position: "right", axisLabel: { show: false } });

      const ax = { xAxisIndex: gi * 2, yAxisIndex: gi * 2 };
      const common = { type: "line", symbol: "none", silent: true, animation: false, ...ax };

      // reference velocities
      refVelocities.forEach((v) => {
        series.push({
          ...common,
          z: 1,
          data: [[v, -1], [v, 2]],
          lineStyle: { color: "#cdcdcd", width: 1 },
        });
      });
      // continuum level
      series.push({
        ...common,
        z: 1,
        data: [[xRange[0] - 20, 1], [xRange[1] + 20, 1]],
        lineStyle: { color: "#b8b8b8", width: 0.9, type: [1.2, 2.2] },
      });
      // observed spectrum as a step histogram
      const hist = p.flux.map((f, k) => [velocityEdges[k], f]);
      hist.push([velocityEdges[velocityEdges.length - 1], p.flux[p.flux.length - 1]]);
      series.push({
        ...common,
        z: 2,
        step: "end",
        data: hist,
        lineStyle: { color: "#9a9a9a", width: 1 },
      });
      // narrow components (dotted)
      series.push({
        ...common,
        z: 3,
        smooth: 0.35,
        data: p.narrow,
        lineStyle: { color: "#2f86cc", width: 2.3, type: [2.3, 4.2] },
      });
      // broad component (dashed)
      series.push({
        ...common,
        z: 3,
        smooth: 0.35,
        data: p.broad,
        lineStyle: { color: "#2a2a2a", width: 1.3, type: [5.5, 2.8] },
      });
      if (p.second) {
        series.push({
          ...common,
          z: 3,
          smooth: 0.35,
          data: p.second,
          lineStyle: { color: "#4fb04f", width: 2, type: [9, 3, 2.5, 3] },
        });
      }
      // full model (thick, translucent)
      series.push({
        ...common,
        z: 4,
        smooth: 0.35,
        data: p.fit,
        lineStyle: { color: rowFitColor[r], width: 5.5, cap: "round", join: "round" },
      });

      // evidence label
      graphics.push({
        type: "text",
        x: colLeft[c] + 10,
        y: rowTop[r] + panelH - 18,
        silent: true,
        z: 20,
        style: {
          text: `{n|\u0394 ln }{i|Z}{n|:\u2002${deltaLnZ[r][c].toFixed(2)}}`,
          verticalAlign: "middle",
          align: "left",
          rich: {
            n: { fontSize: 16, fontFamily: FONT, fill: "#000" },
            i: { fontSize: 16, fontFamily: FONT, fontStyle: "italic", fill: "#000" },
          },
        },
      });
    }
  }

  // y-axis titles
  for (let r = 0; r < 5; r++) {
    graphics.push({
      type: "text",
      x: 16,
      y: rowTop[r] + panelH / 2,
      rotation: Math.PI / 2,
      silent: true,
      style: {
        text: "Norm.\u2002Flux",
        fontSize: 21,
        fontFamily: FONT,
        fill: "#000",
        align: "center",
        verticalAlign: "middle",
      },
    });
  }
  // x-axis titles
  for (let c = 0; c < 4; c++) {
    graphics.push({
      type: "text",
      x: colLeft[c] + panelW / 2,
      y: 1323,
      silent: true,
      style: {
        text: "{a|Velocity [km s}{s|\u22121}{a|]}",
        align: "center",
        verticalAlign: "middle",
        rich: {
          a: { fontSize: 22, fontFamily: FONT, fill: "#000", lineHeight: 24 },
          s: { fontSize: 14, fontFamily: FONT, fill: "#000", verticalAlign: "top", lineHeight: 14 },
        },
      },
    });
  }
  // running header
  graphics.push({
    type: "text",
    x: WIDTH / 2,
    y: 13,
    silent: true,
    style: {
      text: "{i|A&A proofs:}{r| manuscript no. paper}",
      align: "center",
      verticalAlign: "middle",
      rich: {
        i: { fontSize: 16, fontFamily: FONT, fontStyle: "italic", fill: "#000" },
        r: { fontSize: 16, fontFamily: FONT, fill: "#000" },
      },
    },
  });

  return {
    animation: false,
    backgroundColor: "#ffffff",
    textStyle: { fontFamily: FONT },
    grid: grids,
    xAxis: xAxes,
    yAxis: yAxes,
    series,
    graphic: graphics,
  };
}

export default function App() {
  const ref = useRef<HTMLDivElement>(null);
  useEffect(() => {
    if (!ref.current) return;
    const chart = echarts.init(ref.current, null, { renderer: "svg" });
    chart.setOption(buildOption() as any);
    return () => chart.dispose();
  }, []);
  return (
    <div
      ref={ref}
      style={{ position: "absolute", left: 0, top: 0, width: WIDTH, height: HEIGHT, background: "#fff" }}
    />
  );
}
